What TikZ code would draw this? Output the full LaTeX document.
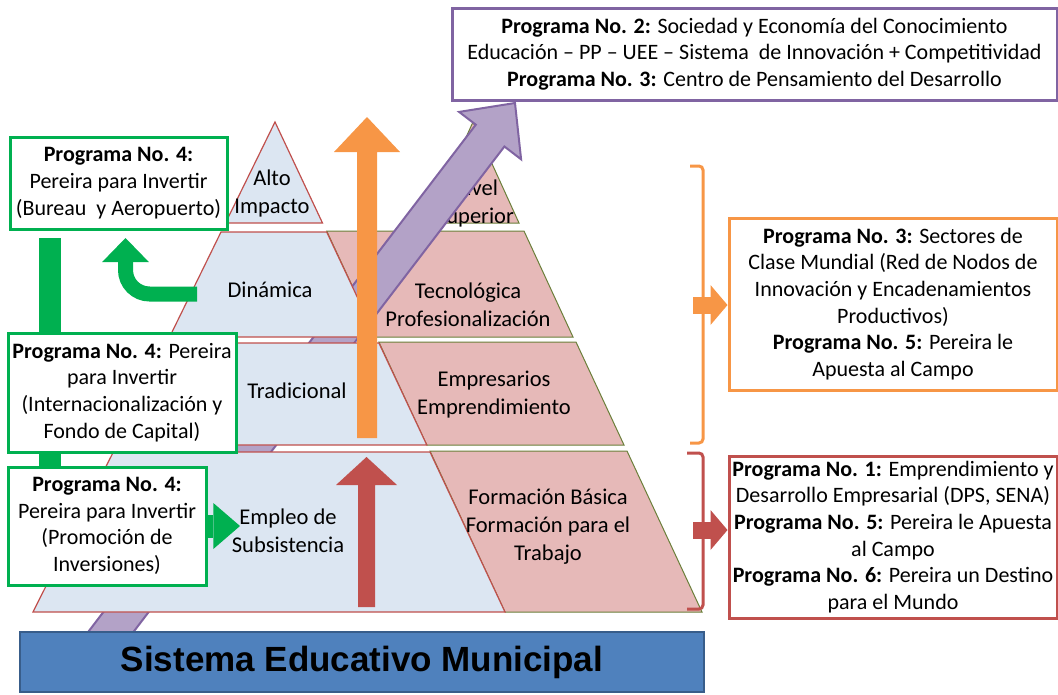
\documentclass[tikz,border=0pt]{standalone}
\usepackage{fontspec}
\setmainfont{Carlito}
\newfontfamily\barfont{Liberation Sans}
\usetikzlibrary{arrows.meta}

\definecolor{lvblue}{HTML}{DCE6F2}
\definecolor{lvpink}{HTML}{E6B9B8}
\definecolor{lvred}{HTML}{C0504D}
\definecolor{lvolive}{HTML}{6B7F3A}
\definecolor{arrorange}{HTML}{F79646}
\definecolor{arrpurple}{HTML}{B3A2C7}
\definecolor{edgepurple}{HTML}{8064A2}
\definecolor{prggreen}{HTML}{00B050}
\definecolor{barblue}{HTML}{4F81BD}
\definecolor{baredge}{HTML}{385D8A}

\begin{document}
\begin{tikzpicture}[
    x=0.75pt,
    y=-0.75pt,
    bluelevel/.style={fill=lvblue,draw=lvred,line width=0.9pt},
    pinklevel/.style={fill=lvpink,draw=lvolive,line width=0.75pt},
    leveltext/.style={font=\fontsize{16.9}{21}\selectfont,align=center,inner sep=0pt},
    progbox/.style={draw=#1,fill=white,line width=2.25pt,align=center,inner sep=0pt,
      font=\fontsize{16.5}{20}\selectfont},
    sysbar/.style={fill=barblue,draw=baredge,line width=1.5pt,inner sep=0pt,
      font=\barfont\bfseries\fontsize{26.25}{30}\selectfont},
    bracket/.style={draw=#1,line width=2.25pt,rounded corners=3pt},
    sidearrow/.style={draw=#1,line width=12.75pt,
      -{Triangle[width=30pt,length=12.75pt,line width=0pt]}},
    greenlink/.style={draw=prggreen,line width=11.25pt,rounded corners=18pt,
      -{Triangle[width=35pt,length=18pt,line width=0pt]}},
    greenpush/.style={draw=prggreen,line width=17.25pt,
      -{Triangle[width=34.5pt,length=20pt,line width=0pt]}}
  ]
    \useasboundingbox (0,0) rectangle (1058,694);

    \fill[pinklevel] (473,122) -- (519,223) -- (427,223) -- cycle;
    \fill[pinklevel] (326.7,231) -- (524,231) -- (573,337) -- (376,337) -- cycle;
    \fill[pinklevel] (378.9,342) -- (576,342) -- (624,445) -- (426.8,445) -- cycle;
    \fill[pinklevel] (430,451) -- (627,451) -- (702,612) -- (505,612) -- cycle;
    \node[leveltext] (nivel) at (475,203) {Nivel\\Superior};

    \filldraw[fill=arrpurple,draw=edgepurple,line width=1.5pt]
      (82.7,639.1) -- (475.8,124.7) -- (459.1,111.9) -- (515,103)
      -- (521.1,159.3) -- (504.4,146.5) -- (111.3,660.9) -- cycle;

    \filldraw[bluelevel] (275,122) -- (322.5,223) -- (225.5,223) -- cycle;
    \filldraw[bluelevel] (221,232) -- (326.7,232) -- (376,337) -- (169.6,337) -- cycle;
    \filldraw[bluelevel] (166.7,343) -- (378.9,343) -- (426.8,445) -- (116.7,445) -- cycle;
    \filldraw[bluelevel] (113.3,452) -- (430,452) -- (505,612) -- (33,612) -- cycle;

    \node[leveltext] (alto) at (272,193) {Alto\\Impacto};
    \node[leveltext] (dinamica) at (270,290) {Dinámica};
    \node[leveltext] (tradicional) at (297,391) {Tradicional};
    \node[leveltext] (empleo) at (288,531) {Empleo de\\Subsistencia};
    \node[leveltext] (tecno) at (468,305) {Tecnológica\\Profesionalización};
    \node[leveltext] (empres) at (494,395) {Empresarios\\Emprendimiento};
    \node[leveltext] (formacion) at (548,527)
      {Formación Básica\\Formación para el\\Trabajo};

    \fill[arrorange] (357,438) -- (357,152) -- (334,152) -- (367,117)
      -- (400,152) -- (377,152) -- (377,438) -- cycle;
    \fill[lvred] (358,607) -- (358,485) -- (336,485) -- (366.5,457)
      -- (397,485) -- (375,485) -- (375,607) -- cycle;

    \coordinate (gbTop) at (50,238);
    \coordinate (gcStart) at (197,294);
    \coordinate (gcTip) at (125.5,238);
    \coordinate (gaTip) at (240,526);

    \node[progbox=prggreen,minimum width=162.75pt,minimum height=69pt]
      (boxA) at (118.5,183)
      {\textbf{Programa No. 4:}\\Pereira para Invertir\\(Bureau\ \ y Aeropuerto)};
    \draw[prggreen,line width=16.5pt] (gbTop) -- (gbTop |- 0,470);
    \node[progbox=prggreen,minimum width=171pt,minimum height=89.25pt]
      (boxB) at (122,392.5)
      {\textbf{Programa No. 4:} Pereira\\para Invertir\\(Internacionalización y\\Fondo de Capital)};
    \node[progbox=prggreen,minimum width=148.5pt,minimum height=88.5pt]
      (boxC) at (107,526)
      {\textbf{Programa No. 4:}\\Pereira para Invertir\\(Promoción de\\Inversiones)};

    \draw[greenlink] (gcStart) -- (gcStart -| gcTip) -- (gcTip);
    \draw[greenpush] (boxC.east) -- (gaTip);

    \node[progbox=edgepurple,minimum width=453.75pt,minimum height=69pt]
      (topbox) at (754.5,54)
      {\textbf{Programa No. 2:} Sociedad y Economía del Conocimiento\\
       Educación – PP – UEE – Sistema\ \ de Innovación + Competitividad\\
       \textbf{Programa No. 3:} Centro de Pensamiento del Desarrollo};
    \node[progbox=arrorange,minimum width=246pt,minimum height=129pt]
      (boxO) at (893,304)
      {\textbf{Programa No. 3:} Sectores de\\Clase Mundial (Red de Nodos de\\
       Innovación y Encadenamientos\\Productivos)\\
       \textbf{Programa No. 5:} Pereira le\\Apuesta al Campo};
    \node[progbox=lvred,minimum width=246pt,minimum height=121.5pt]
      (boxR) at (893,537)
      {\textbf{Programa No. 1:} Emprendimiento y\\Desarrollo Empresarial (DPS, SENA)\\
       \textbf{Programa No. 5:} Pereira le Apuesta\\al Campo\\
       \textbf{Programa No. 6:} Pereira un Destino\\para el Mundo};

    \draw[bracket=arrorange] (690,166) -- (703,166) -- (703,443) -- (690,443);
    \draw[bracket=lvred] (687,453) -- (703,453) -- (703,609) -- (687,609);
    \coordinate (oStart) at (693,305);
    \coordinate (rStart) at (693,530);
    \draw[sidearrow=arrorange] (oStart) -- (oStart -| boxO.west);
    \draw[sidearrow=lvred] (rStart) -- (rStart -| boxR.west);

    \node[sysbar,minimum width=513pt,minimum height=45pt]
      (sistema) at (362,662) {Sistema Educativo Municipal};
  \end{tikzpicture}
\end{document}
